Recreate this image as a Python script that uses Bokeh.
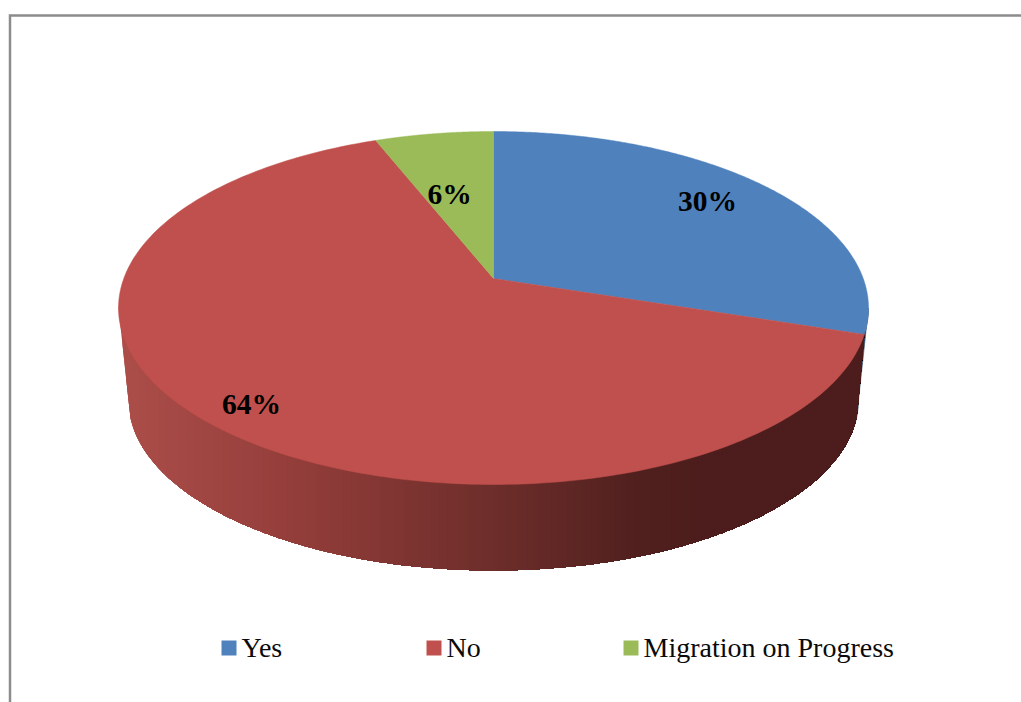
import math
import numpy as np
from bokeh.embed import file_html
from bokeh.core.properties import value
from bokeh.models import Range1d
from bokeh.plotting import figure
from bokeh.resources import INLINE

# Survey shares, in drawing order, clockwise from twelve o'clock
categories = ["Yes", "No", "Migration on Progress"]
shares = [30, 64, 6]
face_colors = ["#4F81BD", "#C0504D", "#9BBB59"]
blue_side = "#2A4361"

W, H = 1021, 702
CX = 493.0
TOP_FACE = dict(half_width=375.0, far=131.0, apex=278.0, near=484.0)
BASE_FACE = dict(half_width=365.0, far=230.0, apex=371.6, near=570.0)


def project(face, theta):
    """Perspective image of a point on the pie's rim (theta clockwise from the far side)."""
    up, down = face["apex"] - face["far"], face["near"] - face["apex"]
    k = (down - up) / (down + up)
    b = up * (1 + k)
    a = face["half_width"] * math.sqrt(1 - k * k)
    u, v = math.sin(theta), math.cos(theta)
    d = 1 + k * v
    return CX + a * u / d, face["apex"] - b * v / d


def arc(face, start, end, n=240):
    pts = [project(face, start + (end - start) * i / n) for i in range(n + 1)]
    return [q[0] for q in pts], [q[1] for q in pts]


# Side shading runs from a lit left edge to deep shadow on the right
shade_x = [119, 300, 500, 640, 700, 870]
shade_rgb = [(172, 78, 74), (146, 61, 58), (108, 45, 42), (80, 32, 30), (76, 29, 28), (76, 29, 28)]


def shade(x):
    c = [round(float(np.interp(x, shade_x, [s[j] for s in shade_rgb]))) for j in range(3)]
    return "#%02x%02x%02x" % tuple(c)


p = figure(width=W, height=H, output_backend="svg", toolbar_location=None,
           x_range=Range1d(0, W), y_range=Range1d(H, 0),
           min_border=0, outline_line_color=None, background_fill_color="white")
p.axis.visible = False
p.grid.visible = False

# Page frame along the top and left edges
p.line([9.5, 9.5, W], [H, 15, 15], line_color="#8C8C8C", line_width=2.5, line_join="miter")

# Cumulative slice angles
angles = [0.0]
for s in shares:
    angles.append(angles[-1] + 2 * math.pi * s / sum(shares))

k_top = (206.0 - 147.0) / (206.0 + 147.0)
rim_right = math.pi - math.asin(math.sqrt(1 - k_top ** 2))
rim_left = 2 * math.pi - rim_right

# Thin visible edge of the blue slice's wall
bx0, by0 = arc(TOP_FACE, rim_right, angles[1], 30)
bx1, by1 = arc(BASE_FACE, rim_right, angles[1], 30)
p.patch(bx0 + bx1[::-1], by0 + by1[::-1], fill_color=blue_side, line_color=blue_side, line_width=0.5)

# Red slice's wall: a silhouette filled by overlapping vertical bands, painted left to right
rim_x, rim_y = arc(TOP_FACE, rim_left, angles[1], 400)
base_x, base_y = arc(BASE_FACE, rim_left, rim_right, 400)
sil_x = [rim_x[0]] + base_x + [rim_x[-1]]
sil_y = [rim_y[0]] + base_y + [rim_y[-1]]
band = 4
right_end = rim_x[-1]
edges = list(range(math.ceil(rim_x[0]), math.floor(right_end), band))
xs, ys, cols = [], [], []
for x0 in edges:
    # Each band runs on to the wall's right end, so later bands simply cover it
    run = np.append(np.arange(x0, right_end, 2.0), right_end)
    top = np.interp(run, rim_x, rim_y) - 3
    bottom = np.interp(run, sil_x, sil_y)
    xs.append(list(run) + list(run[::-1]))
    ys.append(list(top) + list(bottom[::-1]))
    cols.append(shade(x0 + band / 2))
p.patches(xs, ys, fill_color=cols, line_color=None)

# Top face of each slice, running out from the apex
for i, color in enumerate(face_colors):
    ax, ay = arc(TOP_FACE, angles[i], angles[i + 1])
    p.patch([CX] + ax, [TOP_FACE["apex"]] + ay, fill_color=color, line_color=color, line_width=0.5)

# Percentage labels on the slices
label_x = [707, 251, 449]
label_y = [200, 403, 193]
p.text(label_x, label_y, text=[f"{s}%" for s in shares], text_align="center", text_baseline="middle",
       text_font=value("Liberation Serif"), text_font_style="bold", text_font_size="29.5px", text_color="black")

# Legend row beneath the pie
key_left = [221, 426, 623]
key_size = 15
p.quad(left=key_left, right=[k + key_size for k in key_left], top=[640] * 3, bottom=[655] * 3,
       fill_color=face_colors, line_color=None)
p.text([k + 20 for k in key_left], [647] * 3, text=categories, text_align="left", text_baseline="middle",
       text_font=value("Liberation Serif"), text_font_size="28px", text_color="#0A0A0A")

open("out.html", "w").write(file_html(p, INLINE))
